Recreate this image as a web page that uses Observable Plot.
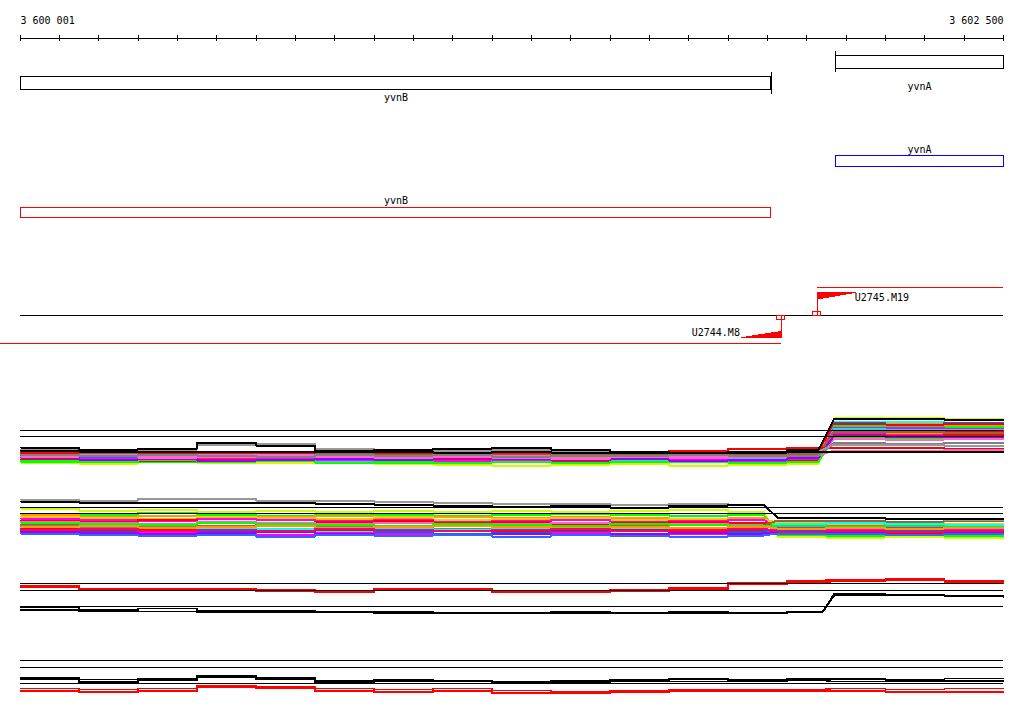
<!DOCTYPE html>
<html><head><meta charset="utf-8">
<script src="https://cdn.jsdelivr.net/npm/d3@7"></script>
<script src="https://cdn.jsdelivr.net/npm/@observablehq/plot@0.6"></script>
<style>
body{margin:0;background:#fff;overflow:hidden}
#chart svg{display:block;shape-rendering:crispEdges}
</style>
</head><body><div id="chart"></div>
<script>
// ---------- data ----------
const region = [3600001, 3602500];
const tickLabels = ["3 600 001", "3 602 500"];
const tickStep = 100;

const geneNames = ["yvnB", "yvnA"];
const geneStarts = [3600001, 3602073];
const geneEnds = [3601910, 3602500];
const geneStrands = ["-", "+"];

const tuNames = ["U2745.M19", "U2744.M8"];
const tuStarts = [3602027, 3599500];
const tuEnds = [3602500, 3601935];
const tuStrands = ["+", "-"];

// expression panel 1 (x grid, series colours, levels)
const grid1 = [3600001, 3600150, 3600300, 3600450, 3600600, 3600750, 3600900, 3601050, 3601200, 3601350, 3601500, 3601650, 3601800, 3601950, 3602070, 3602200, 3602350, 3602500];
const expr1Colors = ["#ccff00","#00ffff","#0066ff","#ff9900","#ff0000","#00ff00","#ff00ff","#33ccff","#3366ff","#ff0000","#ff9900","#ff00ff","#ff0000","#00ff00","#ff66cc","#9900ff","#996633","#ff0000","#ff66cc","#808080","#999999","#000000","#000000"];
const expr1Levels = [
 [7.8,7.7,7.9,7.8,7.8,7.8,7.7,7.6,7.5,7.6,7.7,7.5,7.6,7.7,12.3,12.3,12.2,12.2],
 [8.4,8.3,8.2,8.4,8.3,8.2,8.3,8.1,8.2,8.3,8.0,8.2,8.3,8.2,11.9,11.9,11.8,11.8],
 [8.5,8.6,8.4,8.5,8.3,8.5,8.4,8.5,8.6,8.3,8.5,8.4,8.5,8.4,11.8,11.7,11.8,11.8],
 [8.7,8.5,8.8,8.6,8.5,8.6,8.4,8.6,8.5,8.4,8.6,8.5,8.4,8.6,11.6,11.7,11.5,11.5],
 [8.6,8.4,8.5,8.3,8.7,8.5,8.4,8.2,8.4,8.6,8.5,8.7,8.8,9.0,11.7,11.6,11.7,11.7],
 [7.9,8.0,7.9,8.1,8.0,7.9,7.8,8.0,7.9,8.1,8.0,7.9,8.1,8.0,11.5,11.4,11.4,11.4],
 [8.9,8.7,8.6,8.7,8.5,8.6,8.7,8.6,8.4,8.6,8.7,8.5,8.6,8.5,11.3,11.3,11.2,11.2],
 [8.2,8.1,8.3,8.2,8.1,8.0,8.2,8.3,8.1,8.2,8.1,8.3,8.2,8.1,11.2,11.1,11.1,11.1],
 [8.5,8.4,8.6,8.4,8.5,8.3,8.5,8.4,8.3,8.5,8.4,8.3,8.4,8.3,11.0,11.0,10.9,10.9],
 [8.1,8.2,8.0,8.2,8.1,8.3,8.0,8.1,8.2,8.0,8.2,8.1,8.0,8.1,11.0,10.9,11.0,11.0],
 [8.8,8.6,8.7,8.5,8.6,8.4,8.5,8.7,8.6,8.5,8.4,8.6,8.5,8.6,10.8,10.8,10.7,10.7],
 [8.3,8.2,8.1,8.3,8.2,8.1,8.2,8.0,8.1,8.2,8.3,8.1,8.0,8.2,10.7,10.6,10.7,10.7],
 [8.9,8.8,8.7,8.8,8.9,8.7,8.6,8.7,8.8,8.6,8.7,8.6,8.7,8.8,10.6,10.5,10.6,10.6],
 [8.0,7.9,8.1,7.9,8.0,7.8,7.9,7.8,7.9,7.8,7.9,8.0,7.8,7.9,10.3,10.3,10.2,10.2],
 [8.6,8.7,8.5,8.6,8.4,8.6,8.5,8.3,8.5,8.4,8.3,8.4,8.5,8.4,10.2,10.1,10.2,10.2],
 [8.3,8.1,8.2,8.0,8.1,8.2,8.1,8.3,8.2,8.1,8.2,8.0,8.1,8.3,10.5,10.4,10.4,10.4],
 [8.7,8.8,8.6,8.5,8.7,8.8,8.6,8.5,8.7,8.7,8.6,8.7,8.6,8.7,10.9,10.9,10.8,10.8],
 [8.8,8.9,8.8,8.9,8.8,8.9,8.8,8.9,8.8,8.9,8.9,9.0,9.2,9.3,9.3,9.3,9.2,9.2],
 [8.4,8.5,8.3,8.4,8.6,8.4,8.3,8.4,8.3,8.2,8.4,8.3,8.4,8.5,9.0,9.0,9.1,9.1],
 [8.6,8.5,8.6,8.5,8.4,8.6,8.5,8.6,8.4,8.5,8.5,8.6,8.5,8.5,9.8,9.7,9.8,9.8],
 [9.1,9.0,9.1,9.6,9.7,9.2,9.0,9.0,9.1,9.0,8.9,8.8,8.8,8.9,9.6,9.6,9.5,9.5],
 [9.0,8.9,8.9,8.9,8.9,8.9,8.9,8.8,8.9,8.8,8.8,8.8,8.8,8.9,8.9,8.9,8.9,8.9],
 [9.3,9.1,9.2,9.8,9.5,9.0,9.1,9.2,9.3,9.1,8.9,8.8,8.9,9.1,12.2,12.2,12.1,12.1]
];
const expr1Refs = [11.0, 10.4];

// expression panel 2
const grid2 = [3600001, 3600150, 3600300, 3600450, 3600600, 3600750, 3600900, 3601050, 3601200, 3601350, 3601500, 3601650, 3601800, 3601925, 3602050, 3602200, 3602350, 3602500];
const expr2Colors = ["#ccff00","#00ff00","#ff9900","#ffcc00","#ff00ff","#ff0000","#ff66cc","#996633","#808080","#00ffff","#ff0000","#0066ff","#ff00ff","#9900ff","#3366ff","#00ff00","#ff9900","#ff0066","#999999","#000000"];
const expr2Levels = [
 [11.2,11.0,11.1,10.9,11.0,10.9,11.0,10.9,11.0,10.9,11.0,11.1,10.9,8.4,8.3,8.4,8.3,8.3],
 [10.7,10.6,10.8,10.6,10.5,10.7,10.6,10.5,10.6,10.7,10.6,10.5,10.6,8.6,8.5,8.6,8.5,8.5],
 [10.6,10.4,10.5,10.3,10.4,10.5,10.3,10.4,10.3,10.4,10.3,10.2,10.3,9.5,9.6,9.5,9.4,9.4],
 [10.4,10.3,10.2,10.4,10.3,10.2,10.4,10.1,10.2,10.3,10.1,10.2,10.1,9.8,9.7,9.8,9.7,9.7],
 [10.2,10.1,10.0,10.2,10.1,10.0,10.1,9.9,10.0,10.1,9.9,10.0,10.1,9.2,9.1,9.2,9.2,9.2],
 [10.0,9.9,10.1,9.9,9.8,9.9,10.0,9.8,9.9,9.7,9.8,9.9,9.8,9.4,9.3,9.4,9.3,9.3],
 [9.9,9.8,9.7,9.9,9.8,9.7,9.8,9.6,9.7,9.8,9.6,9.7,9.6,9.0,9.1,9.0,9.1,9.1],
 [9.6,9.5,9.4,9.5,9.6,9.4,9.5,9.6,9.5,9.4,9.5,9.6,9.5,10.0,10.0,9.9,10.0,10.0],
 [9.5,9.3,9.4,9.3,9.2,9.4,9.3,9.2,9.3,9.4,9.2,9.3,9.4,9.6,9.5,9.6,9.5,9.5],
 [9.3,9.2,9.1,9.3,9.2,9.0,9.2,9.1,9.3,9.1,9.2,9.0,9.1,9.7,9.8,9.7,9.6,9.6],
 [9.2,9.0,9.1,8.9,9.0,9.1,8.9,9.0,8.9,9.0,9.1,8.9,9.0,8.8,8.9,8.8,8.9,8.9],
 [9.0,8.9,8.8,8.9,9.0,8.8,8.9,8.7,8.8,8.9,8.7,8.8,8.9,9.1,9.0,9.1,9.0,9.0],
 [8.8,8.7,8.9,8.7,8.6,8.8,8.7,8.6,8.7,8.8,8.6,8.7,8.6,9.3,9.2,9.3,9.2,9.2],
 [8.9,8.8,8.7,8.8,8.9,8.7,8.5,8.6,8.7,8.6,8.7,8.8,8.7,8.9,8.8,8.9,8.8,8.8],
 [8.7,8.6,8.5,8.6,8.4,8.6,8.5,8.6,8.4,8.6,8.5,8.4,8.5,8.7,8.7,8.6,8.7,8.7],
 [9.8,9.7,9.6,9.8,9.7,9.6,9.5,9.7,9.6,9.5,9.7,9.6,9.5,9.5,9.4,9.5,9.4,9.4],
 [9.4,9.5,9.3,9.4,9.5,9.3,9.4,9.5,9.4,9.3,9.4,9.3,9.4,9.2,9.3,9.2,9.3,9.3],
 [9.1,9.2,9.0,9.1,9.0,9.2,9.1,9.0,9.1,9.2,9.0,9.1,9.2,8.9,9.0,8.9,9.0,9.0],
 [12.1,12.0,12.2,12.2,12.0,12.0,11.9,11.8,11.7,11.7,11.6,11.7,11.6,10.3,10.3,10.2,10.1,10.1],
 [11.9,11.8,11.8,11.8,11.8,11.7,11.6,11.5,11.4,11.5,11.3,11.5,11.6,10.3,10.3,10.2,10.2,10.2]
];
const expr2Refs = [11.3, 10.7];

// expression panel 3
const expr3Colors = ["#ff0000","#ff0000","#ff0000","#000000","#000000","#000000"];
const expr3Levels = [
 [11.5,11.2,11.1,11.2,11.1,11.0,11.2,11.2,11.0,10.9,11.1,11.3,11.8,12.0,12.1,12.2,12.0,12.0],
 [11.3,11.0,11.2,11.0,10.9,10.8,11.0,11.1,10.9,10.8,10.9,11.1,11.6,11.8,11.9,12.0,11.8,11.8],
 [11.4,11.1,11.0,11.1,11.0,10.9,11.1,11.0,10.8,10.9,11.0,11.2,11.7,11.9,12.0,12.1,11.9,11.7],
 [9.3,9.1,9.2,9.0,9.0,8.9,8.9,8.8,8.8,8.9,8.8,8.9,8.8,8.9,10.7,10.6,10.5,10.5],
 [9.1,9.0,8.9,8.9,8.8,8.8,8.7,8.7,8.8,8.7,8.7,8.8,8.8,8.8,10.5,10.5,10.4,10.3],
 [9.0,8.9,8.9,8.8,8.9,8.8,8.8,8.8,8.7,8.8,8.8,8.7,8.7,8.9,10.6,10.5,10.5,10.4]
];
const expr3Refs = [11.7, 11.0, 9.4];

// expression panel 4
const expr4Colors = ["#000000","#000000","#000000","#ff0000","#ff0000","#ff0000"];
const expr4Levels = [
 [10.2,10.1,10.2,10.5,10.3,10.0,10.1,10.0,9.9,10.0,10.1,10.2,10.1,10.2,10.2,10.1,10.2,10.2],
 [10.3,9.9,10.0,10.4,10.2,9.9,10.0,9.9,9.8,9.9,10.0,10.1,10.0,10.1,10.1,10.0,10.0,10.0],
 [10.1,9.8,10.1,10.3,10.1,9.8,9.9,9.9,9.7,9.8,9.9,9.9,9.9,10.0,9.9,9.9,9.9,9.9],
 [9.2,9.1,9.2,9.5,9.4,9.2,9.1,9.2,9.0,8.9,9.0,9.1,9.1,9.1,9.2,9.1,9.2,9.2],
 [8.9,8.9,8.9,9.3,9.2,8.9,8.8,8.9,8.7,8.7,8.8,8.9,8.9,9.0,8.9,8.8,8.8,8.8],
 [9.0,8.8,9.0,9.4,9.3,9.0,8.9,9.0,8.8,8.8,8.9,9.0,9.0,8.9,9.0,8.9,8.9,8.9]
];
const expr4Refs = [12.0, 11.3, 9.7];

// ---------- build ----------
const W = 1024, ML = 20, MR = 21;
const FONT = "DejaVu Sans Mono";
const genes = geneNames.map((name, i) => ({name, start: geneStarts[i], end: geneEnds[i], strand: geneStrands[i]}));
const tus = tuNames.map((name, i) => ({name, start: tuStarts[i], end: tuEnds[i], strand: tuStrands[i]}));
const axisTicks = d3.range(3600000, region[1] + 1, tickStep);

// layout lanes (pixels inside the annotation panel)
const L = {
  axis: 38, tick0: 35, tick1: 41, label: 20,
  g1: {"+": [55, 68, 51, 72, 86], "-": [76, 89, 72, 94, 97]},
  g2: {"+": [155, 166, 149], "-": [207, 217, 200]},
  tuMid: 315, tuLine: {"+": 287, "-": 343}, flagBase: {"+": 292, "-": 338},
  flagTip: {"+": 299.5, "-": 331}, tuLabel: {"+": 297, "-": 332}
};
const FLAG_BP = 100;
const flagPts = tus.flatMap(t => t.strand === "+"
  ? [{t: t.name, x: t.start, y1: L.flagBase["+"], y2: L.flagTip["+"]}, {t: t.name, x: t.start + FLAG_BP, y1: L.flagBase["+"], y2: L.flagBase["+"] + 0.8}]
  : [{t: t.name, x: t.end - FLAG_BP, y1: L.flagBase["-"], y2: L.flagBase["-"] - 0.8}, {t: t.name, x: t.end, y1: L.flagBase["-"], y2: L.flagTip["-"]}]);

const annH = 370;
const ann = Plot.plot({
  width: W, height: annH, marginLeft: ML, marginRight: MR, marginTop: 0, marginBottom: 0,
  x: {domain: region, axis: null},
  y: {domain: [0, annH], range: [0, annH], axis: null},
  marks: [
    Plot.ruleY([L.axis], {x1: region[0], x2: region[1], stroke: "black"}),
    Plot.ruleX(axisTicks, {x: d => d, y1: L.tick0, y2: L.tick1, stroke: "black"}),
    Plot.text([tickLabels[0]], {x: region[0], y: L.label, text: d => d, textAnchor: "start", fontFamily: FONT, fontSize: 10, fill: "black"}),
    Plot.text([tickLabels[1]], {x: region[1], y: L.label, text: d => d, textAnchor: "end", fontFamily: FONT, fontSize: 10, fill: "black"}),
    Plot.rect(genes, {x1: "start", x2: "end", y1: d => L.g1[d.strand][0], y2: d => L.g1[d.strand][1], stroke: "black", fill: "none"}),
    Plot.ruleX(genes, {x: d => d.strand === "+" ? d.start : d.end, y1: d => L.g1[d.strand][2], y2: d => L.g1[d.strand][3], stroke: "black"}),
    Plot.text(genes, {x: d => (d.start + d.end) / 2, y: d => L.g1[d.strand][4], text: "name", fontFamily: FONT, fontSize: 10, fill: "black"}),
    Plot.rect(genes, {x1: "start", x2: "end", y1: d => L.g2[d.strand][0], y2: d => L.g2[d.strand][1], stroke: d => d.strand === "+" ? "#0000ff" : "#ff0000", fill: "none"}),
    Plot.text(genes, {x: d => (d.start + d.end) / 2, y: d => L.g2[d.strand][2], text: "name", fontFamily: FONT, fontSize: 10, fill: "black"}),
    Plot.ruleY([L.tuMid], {x1: region[0], x2: region[1], stroke: "black"}),
    Plot.ruleY(tus, {y: d => L.tuLine[d.strand], x1: "start", x2: "end", stroke: "#ff0000"}),
    Plot.ruleX(tus, {x: d => d.strand === "+" ? d.start : d.end, y1: L.tuMid, y2: d => L.flagBase[d.strand], stroke: "#ff0000"}),
    Plot.areaY(flagPts, {x: "x", y1: "y1", y2: "y2", z: "t", fill: "#ff0000"}),
    Plot.rect(tus, {x1: d => d.strand === "+" ? d.start : d.end, x2: d => d.strand === "+" ? d.start : d.end,
      y1: d => d.strand === "+" ? L.tuMid - 4 : L.tuMid, y2: d => d.strand === "+" ? L.tuMid : L.tuMid + 4,
      insetLeft: -4, insetRight: -4, stroke: "#ff0000", fill: "none"}),
    Plot.text(tus.filter(d => d.strand === "+"), {x: d => d.start + FLAG_BP, y: d => L.tuLabel[d.strand], text: "name", textAnchor: "start", dx: -2, fontFamily: FONT, fontSize: 10, fill: "black"}),
    Plot.text(tus.filter(d => d.strand === "-"), {x: d => d.end - FLAG_BP, y: d => L.tuLabel[d.strand], text: "name", textAnchor: "end", dx: -2, fontFamily: FONT, fontSize: 10, fill: "black"})
  ]
});

// step vertices: each level is held until the next grid position; at the
// transition index the change is drawn as a short slope of rampBp width.
function rows(grid, colors, levels, rampAt, rampBp) {
  return levels.flatMap((vals, s) => {
    const out = [];
    for (let i = 0; i < vals.length; i++) {
      out.push({s, x: grid[i], v: vals[i], c: colors[s]});
      if (i + 1 < vals.length) {
        const xe = i + 1 === rampAt ? grid[i + 1] - rampBp : grid[i + 1];
        out.push({s, x: xe, v: vals[i], c: colors[s]});
      }
    }
    return out;
  });
}
function panel(height, ydom, grid, colors, levels, refs, sw, rampAt, rampBp) {
  return Plot.plot({
    width: W, height, marginLeft: ML, marginRight: MR, marginTop: 0, marginBottom: 0,
    x: {domain: region, axis: null},
    y: {domain: ydom, axis: null},
    color: {type: "identity"},
    marks: [
      Plot.line(rows(grid, colors, levels, rampAt, rampBp), {x: "x", y: "v", z: "s", stroke: "c", curve: "linear", strokeWidth: sw}),
      Plot.ruleY(refs, {x1: region[0], x2: region[1], stroke: "black", strokeWidth: 1})
    ]
  });
}

const root = document.getElementById("chart");
root.append(ann);
root.append(panel(110, [6, 17], grid1, expr1Colors, expr1Levels, expr1Refs, 2, 14, 40));
root.append(panel(80, [6, 14], grid2, expr2Colors, expr2Levels, expr2Refs, 2, 13, 35));
root.append(panel(80, [6, 14], grid1, expr3Colors, expr3Levels, expr3Refs, 1.5, 14, 30));
root.append(panel(74, [6.6, 14], grid1, expr4Colors, expr4Levels, expr4Refs, 1.5, 14, 30));
</script></body></html>
